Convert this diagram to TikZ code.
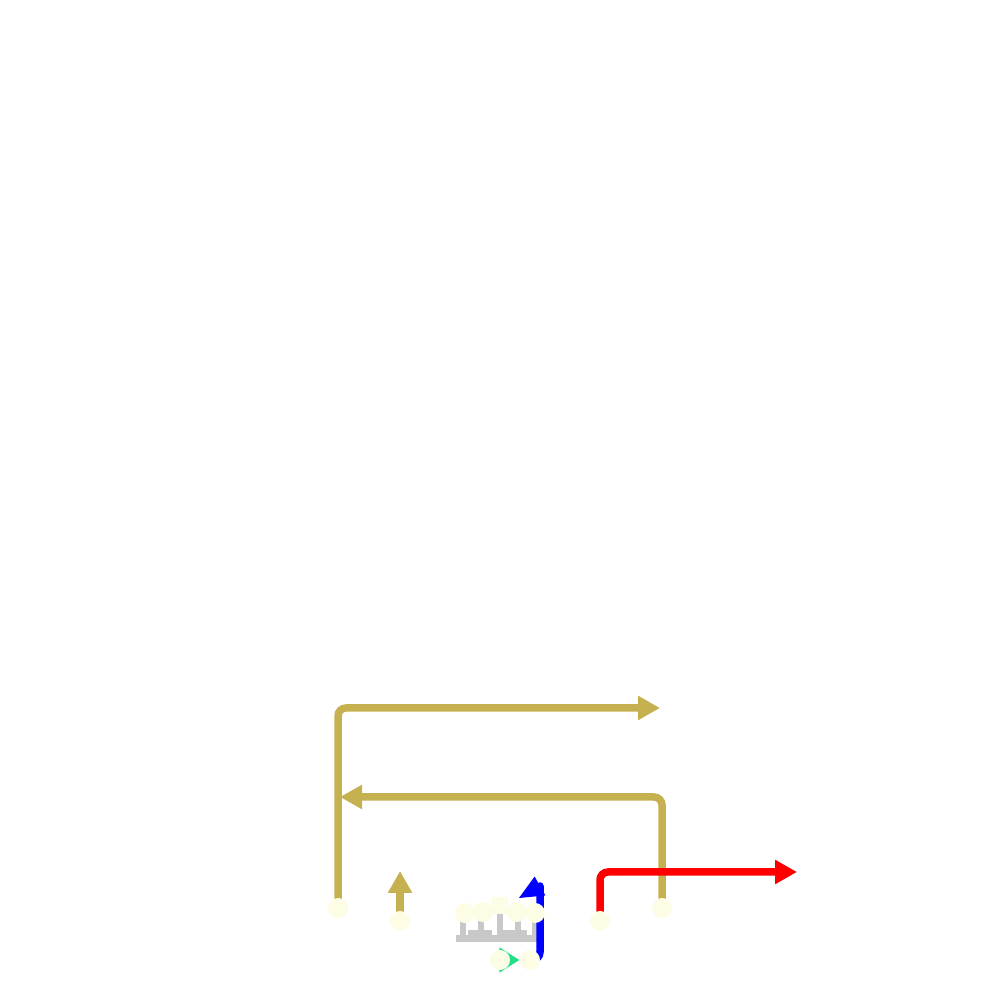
\documentclass[tikz,border=0pt]{standalone}
\usepackage{xcolor}
\usepackage{tikz}
\usetikzlibrary{arrows.meta,backgrounds,calc}
\definecolor{wirec}{HTML}{C5B150}
\definecolor{padc}{HTML}{FDFDE6}
\definecolor{combc}{HTML}{C8C8C8}
\definecolor{linkc}{HTML}{22DD88}
\tikzset{
  pad/.style={circle, fill=padc, minimum size=0.2cm, inner sep=0pt},
  wire/.style={line width=0.075cm, rounded corners=0.08cm,
               -{Triangle[length=0.22cm, width=0.23cm]}},
  gwire/.style={wire, draw=wirec},
}
\begin{document}
\begin{tikzpicture}
  \useasboundingbox (0,0) rectangle (10,10);
  % pads
  \node[pad] (pa) at (3.38,0.92) {};
  \node[pad] (pb) at (4.00,0.79) {};
  \node[pad] (pc) at (6.00,0.79) {};
  \node[pad] (pd) at (6.62,0.92) {};
  \node[pad] (e1) at (4.65,0.87) {};
  \node[pad] (e2) at (4.83,0.88) {};
  \node[pad, rectangle, minimum width=0.16cm, minimum height=0.17cm] (e3) at (5.00,0.94) {};
  \node[pad] (e4) at (5.17,0.88) {};
  \node[pad] (e5) at (5.35,0.87) {};
  \node[pad] (f1) at (5.00,0.40) {};
  \node[pad] (f2) at (5.30,0.40) {};
  \coordinate (t1) at (6.60,2.92);
  \coordinate (t2) at (3.40,2.03);
  \coordinate (t3) at (4.00,1.29);
  \coordinate (t4) at (7.97,1.28);
  \coordinate (bk) at (5.40,1.14);
  \coordinate (t5) at (5.19,1.02);
  \begin{scope}[on background layer]
    % comb
    \fill[combc] (4.56,0.58) rectangle (5.38,0.65);
    \fill[combc] (4.68,0.65) rectangle (4.92,0.70);
    \fill[combc] (5.03,0.65) rectangle (5.27,0.70);
    \foreach \x in {4.63,4.81,5.18,5.35}
      \fill[combc] (\x-0.03,0.64) rectangle (\x+0.03,0.86);
    \fill[combc] (4.97,0.64) rectangle (5.03,0.94);
    \draw[gwire] (pa.center) |- (t1);
    \draw[gwire] (pd.center) |- (t2);
    \draw[gwire] (pb.center) -- (t3);
    \draw[wire, draw=red] (pc.center) |- (t4);
    \draw[wire, draw=blue, -, line cap=round] (f2.center) -| (bk);
    \fill[blue] (t5) -- ($(bk)!0.45!90:(t5)$) -- ($(bk)!0.45!-90:(t5)$) -- cycle;
    \draw[wire, draw=linkc, line width=0.02cm, -{Triangle[length=0.2cm, width=0.25cm]}] (f1.center) -- (f2.west);
  \end{scope}
\end{tikzpicture}
\end{document}
